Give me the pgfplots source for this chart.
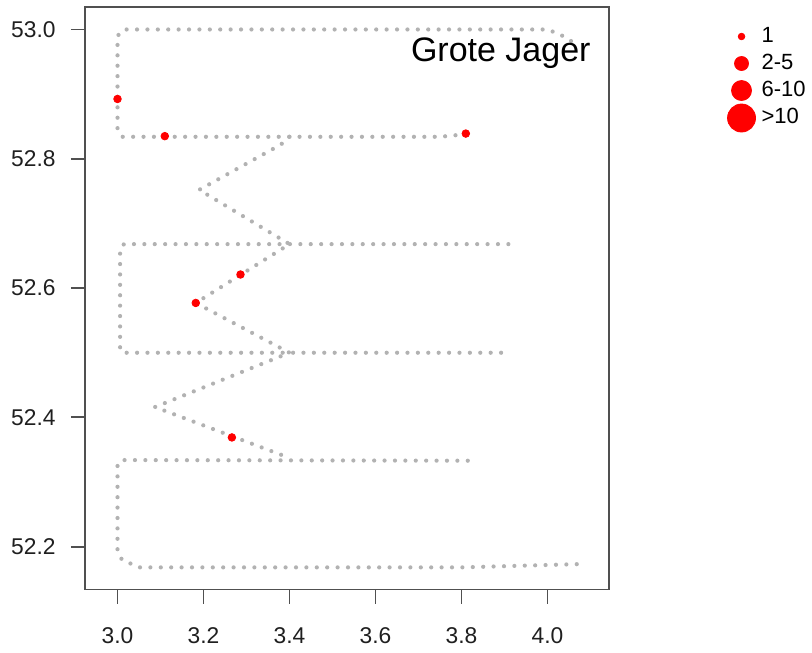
\documentclass[border=0pt]{standalone}
\usepackage{pgfplots}
\pgfplotsset{compat=1.18}
\usepackage{fontspec}
\setmainfont{Liberation Sans}
\definecolor{trackgray}{RGB}{178,178,178}
\definecolor{framegray}{RGB}{80,80,80}
\begin{document}
\begin{tikzpicture}
\useasboundingbox (0,0) rectangle (406pt,326pt);
\begin{axis}[
  at={(42.5pt,31.25pt)}, anchor=south west,
  scale only axis, width=262.15pt, height=291.1pt,
  xmin=2.9244, xmax=4.1437, ymin=52.1338, ymax=53.0343,
  xtick={3.0,3.2,3.4,3.6,3.8,4.0},
  ytick={52.2,52.4,52.6,52.8,53.0},
  xticklabels={3.0,3.2,3.4,3.6,3.8,4.0},
  yticklabels={52.2,52.4,52.6,52.8,53.0},
  xtick pos=left, ytick pos=left,
  tick align=outside, major tick length=7pt,
  major tick style={framegray, line width=0.9pt},
  axis line style={framegray, line width=0.9pt},
  tick label style={font=\fontsize{11.4}{13}\selectfont, text=black!88},
  xticklabel style={inner sep=0pt, anchor=north, yshift=-11.6pt},
  yticklabel style={inner sep=0pt, anchor=east, xshift=-7.5pt},
  legend style={at={(1.2255,0.973)}, anchor=north west, draw=none, fill=none,
    inner sep=0pt, outer sep=0pt, row sep=0pt, column sep=3pt,
    font=\fontsize{11}{12}\selectfont,
    nodes={inner sep=0pt, text height=9.5pt, text depth=4pt}},
  legend cell align=left,
  clip=false,
]
% survey tracks (dotted)
\addplot[trackgray, line width=2.1pt, line cap=round, dash pattern=on 0pt off 5.2pt, forget plot] coordinates {
 (4.068,52.173) (3.80,52.168) (3.05,52.168) (3.01,52.180) (3.0,52.195) (3.0,52.328) (3.012,52.334) (3.822,52.333)
};
\addplot[trackgray, line width=2.1pt, line cap=round, dash pattern=on 0pt off 5.2pt, forget plot] coordinates {
 (3.892,52.500) (3.012,52.500) (3.006,52.505) (3.006,52.660) (3.015,52.668) (3.910,52.668)
};
\addplot[trackgray, line width=2.1pt, line cap=round, dash pattern=on 0pt off 5.2pt, forget plot] coordinates {
 (3.810,52.838) (3.75,52.834) (3.012,52.834) (3.0,52.845) (3.0,52.990) (3.015,53.0) (4.0,53.0) (4.03,52.992) (4.065,52.978)
};
\addplot[trackgray, line width=2.1pt, line cap=round, dash pattern=on 0pt off 5.2pt, forget plot] coordinates {
 (3.40,52.834) (3.38,52.822) (3.19,52.752) (3.40,52.668) (3.182,52.577) (3.40,52.500) (3.087,52.416) (3.397,52.338)
};
% sightings
\addplot[only marks, mark=*, mark size=1.9pt, color=red, forget plot] coordinates {
 (3.0,52.8925) (3.110,52.835) (3.81,52.839) (3.286,52.621) (3.182,52.577) (3.266,52.369)
};
\node[anchor=base east, font=\fontsize{17}{20}\selectfont, inner sep=0pt] at (axis cs:4.101,52.950) {Grote Jager};
\addlegendimage{only marks, mark=*, mark size=1.65pt, color=red}
\addlegendentry{1}
\addlegendimage{only marks, mark=*, mark size=3.5pt, color=red}
\addlegendentry{2-5}
\addlegendimage{only marks, mark=*, mark size=5pt, color=red}
\addlegendentry{6-10}
\addlegendimage{only marks, mark=*, mark size=7pt, color=red}
\addlegendentry{>10}
\end{axis}
\end{tikzpicture}
\end{document}
